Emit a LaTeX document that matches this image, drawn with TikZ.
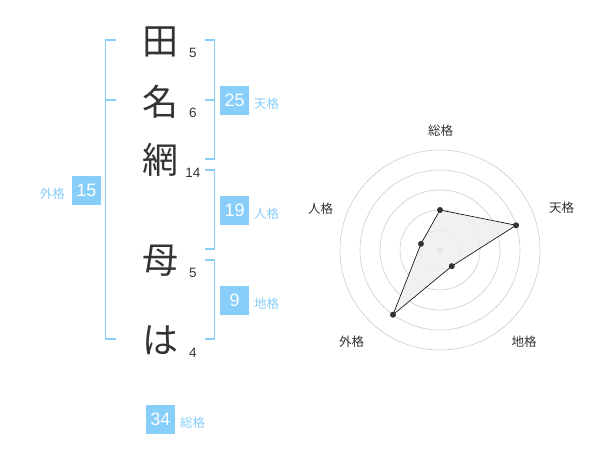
\documentclass[tikz,border=0pt]{standalone}
\usepackage{fontspec}
\setmainfont{Liberation Sans}
\newfontfamily\jp{Noto Sans CJK JP}
\usetikzlibrary{calc}
\definecolor{skyblue}{HTML}{87CEFA}
\definecolor{inkgray}{HTML}{333333}
\definecolor{ringgray}{HTML}{CCCCCC}
\definecolor{areagray}{HTML}{EEEEEE}

\begin{document}
\begin{tikzpicture}[x=1pt,y=-1pt,
    kanji/.style={text=inkgray,font=\jp\fontsize{36}{36}\selectfont,inner sep=0pt},
    strokes/.style={text=inkgray,font=\fontsize{13.5}{13.5}\selectfont,inner sep=0pt},
    valbox/.style={fill=skyblue,text=white,font=\fontsize{18}{18}\selectfont,minimum size=29pt,inner sep=0pt},
    kaku/.style={text=skyblue,font=\jp\fontsize{12.5}{12.5}\selectfont,inner sep=0pt},
    bracket/.style={draw=skyblue,line width=1.6pt},
    axislabel/.style={text=inkgray,font=\jp\fontsize{12.5}{12.5}\selectfont,inner sep=0pt},
    dot/.style={circle,fill=inkgray,inner sep=0pt,minimum size=6pt}]
  \useasboundingbox (0,0) rectangle (600,470);
  % name
  \node[kanji] (c1) at (160,42) {田};
  \node[kanji] (c2) at (160,102) {名};
  \node[kanji] (c3) at (160,160) {網};
  \node[kanji] (c4) at (160,261) {母};
  \node[kanji] (c5) at (160,340) {は};
  \node[strokes] (s1) at (193,53) {5};
  \node[strokes] (s2) at (193,113) {6};
  \node[strokes] (s3) at (193,173) {14};
  \node[strokes] (s4) at (193,273) {5};
  \node[strokes] (s5) at (193,353) {4};
  % brackets
  \draw[bracket] (115.7,40) -- (105.3,40) -- (105.3,339) -- (115.7,339);
  \draw[bracket] (105.3,100) -- (115.7,100);
  \draw[bracket] (205,40) -- (214.3,40) -- (214.3,159.3) -- (205,159.3);
  \draw[bracket] (205,100) -- (214.3,100);
  \draw[bracket] (205,170) -- (214.3,170) -- (214.3,249.3) -- (205,249.3);
  \draw[bracket] (205,260) -- (214.3,260) -- (214.3,339.3) -- (205,339.3);
  % values
  \node[valbox] (ten) at (234.7,100.5) {25};
  \node[kaku,anchor=west] at (254,103.5) {天格};
  \node[valbox] (jin) at (234.7,210.3) {19};
  \node[kaku,anchor=west] at (254,213.3) {人格};
  \node[valbox] (chi) at (234.7,300.5) {9};
  \node[kaku,anchor=west] at (254,303.5) {地格};
  \node[valbox] (gai) at (86.3,190.5) {15};
  \node[kaku,anchor=east] at (65,193.5) {外格};
  \node[valbox] (sou) at (160.5,419.5) {34};
  \node[kaku,anchor=west] at (180,422.5) {総格};
  % radar
  \begin{scope}[shift={(440,250)}]
    \foreach \r in {20,40,...,100}
      \draw[ringgray,line width=0.6pt] (0,0) circle (\r);
    \fill[ringgray] (0,0) circle (3.3);
    \coordinate (p1) at (-90:40);
    \coordinate (p2) at (-18:80);
    \coordinate (p3) at (54:20);
    \coordinate (p4) at (126:80);
    \coordinate (p5) at (-162:20);
    \fill[areagray,opacity=0.8] (p1) -- (p2) -- (p3) -- (p4) -- (p5) -- cycle;
    \draw[black,line width=0.6pt] (p1) -- (p2) -- (p3) -- (p4) -- (p5) -- cycle;
    \foreach \p in {p1,p2,p3,p4,p5}
      \node[dot] at (\p) {};
    \node[axislabel] (a1) at (0.7,-119.3) {総格};
    \node[axislabel] (a2) at (121.7,-42) {天格};
    \node[axislabel] (a3) at (84,92) {地格};
    \node[axislabel] (a4) at (-88.3,92) {外格};
    \node[axislabel] (a5) at (-119.3,-41) {人格};
  \end{scope}
\end{tikzpicture}
\end{document}
